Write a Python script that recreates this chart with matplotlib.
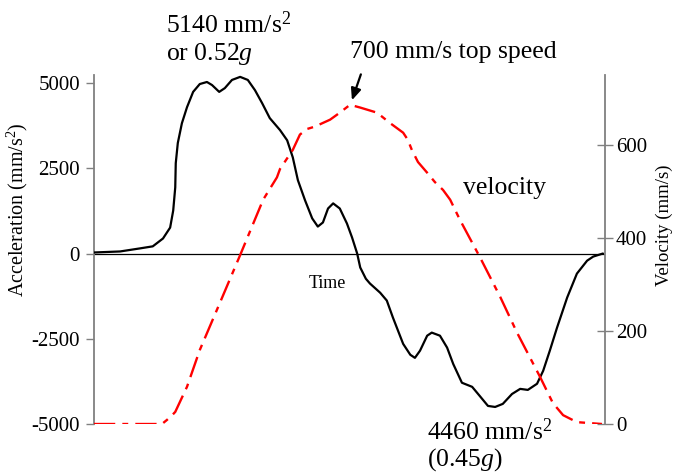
import matplotlib
matplotlib.use("Agg")
import matplotlib.pyplot as plt

plt.rcParams['font.family'] = ['Liberation Serif', 'DejaVu Serif']
plt.rcParams['mathtext.fontset'] = 'custom'
plt.rcParams['mathtext.rm'] = 'Liberation Serif'
plt.rcParams['mathtext.it'] = 'Liberation Serif:italic'

# ---- data (time in arbitrary units) ----
acc_time = [0.00, 0.51, 0.90, 1.15, 1.35, 1.49, 1.55, 1.59, 1.60, 1.64, 1.72, 1.82, 1.94, 2.07,
            2.21, 2.31, 2.45, 2.56, 2.70, 2.86, 3.01, 3.15, 3.29, 3.44, 3.64, 3.78, 3.89, 3.99,
            4.13, 4.27, 4.38, 4.48, 4.58, 4.68, 4.81, 4.95, 5.05, 5.15, 5.21, 5.32, 5.40, 5.60,
            5.73, 5.85, 6.05, 6.19, 6.28, 6.38, 6.52, 6.61, 6.77, 6.91, 7.03, 7.20, 7.40, 7.55,
            7.71, 7.85, 8.00, 8.18, 8.34, 8.49, 8.67, 8.79, 8.92, 9.06, 9.26, 9.45, 9.65, 9.77, 9.96]
acceleration = [30, 60, 150, 210, 440, 760, 1260, 1940, 2650, 3240, 3820, 4290, 4740, 4970,
                5030, 4940, 4740, 4850, 5090, 5180, 5090, 4790, 4410, 3970, 3620, 3320, 2820, 2150,
                1560, 1030, 790, 910, 1320, 1470, 1320, 880, 470, 0, -410, -740, -880, -1150,
                -1380, -1880, -2650, -2970, -3060, -2850, -2410, -2320, -2410, -2760, -3240, -3790, -3910, -4180,
                -4470, -4500, -4410, -4120, -3970, -4000, -3820, -3440, -2850, -2180, -1290, -590, -210, -90, 0]

vel_time = [0.00, 1.33, 1.43, 1.53, 1.59, 1.82, 2.07, 2.47, 2.86, 3.31, 3.58, 3.64, 3.89, 4.03,
            4.17, 4.32, 4.62, 4.81, 5.01, 5.21, 5.54, 5.79, 6.05, 6.14, 6.22, 6.34, 6.52, 6.67,
            6.83, 6.97, 7.16, 7.55, 7.95, 8.28, 8.73, 8.98, 9.18, 9.45, 9.94]
velocity = [0, 0, 9, 19, 26, 80, 159, 262, 363, 482, 530, 548, 589, 622,
            634, 639, 654, 669, 686, 680, 669, 647, 626, 611, 589, 563, 540, 520,
            503, 482, 439, 359, 273, 196, 101, 45, 19, 4, 0]

acc_ticks = [-5000, -2500, 0, 2500, 5000]
vel_ticks = [0, 200, 400, 600]

W, H = 675, 476
fig = plt.figure(figsize=(6.75, 4.76), dpi=100)
ax = fig.add_axes([94 / W, 1 - 424 / H, (605 - 94) / W, (424 - 75) / H])
ax2 = ax.twinx()

grey = '#808080'
ax.plot(acc_time, acceleration, color='black', lw=1.6, zorder=3,
        solid_joinstyle='round', solid_capstyle='round')
ax.axhline(0, color='black', lw=0.9, zorder=2)
ax2.plot(vel_time, velocity, color='#ff0000', lw=1.7, dashes=(9, 3, 2.5, 3),
         dash_joinstyle='round')

ax.set_xlim(0, 10)
ax.set_ylim(-5000, 5235)
ax2.set_ylim(0, 750)

ax.set_yticks(acc_ticks)
ax.set_yticklabels([str(v) for v in acc_ticks])
ax2.set_yticks(vel_ticks)
ax2.set_yticklabels([str(v) for v in vel_ticks])
ax.set_xticks([])

for a in (ax, ax2):
    for s in ('top', 'bottom'):
        a.spines[s].set_visible(False)
ax.spines['right'].set_visible(False)
ax2.spines['left'].set_visible(False)
ax.spines['left'].set_color(grey)
ax2.spines['right'].set_color(grey)
ax.spines['left'].set_linewidth(1.3)
ax2.spines['right'].set_linewidth(1.3)

ax.tick_params(axis='y', direction='out', length=6, width=1, color=grey, labelsize=15, pad=4)
ax2.tick_params(axis='y', direction='inout', length=12, width=1, color=grey, labelsize=15, pad=2)

ax.set_ylabel('Acceleration (mm/s$^2$)', fontsize=14.5)
ax.yaxis.set_label_coords(-0.126, 0.613)
ax2.set_ylabel('Velocity (mm/s)', fontsize=13.5)
ax2.yaxis.set_label_coords(1.100, 0.570)

def ft(x, y, s, **kw):
    fig.text(x / W, 1 - y / H, s, **kw)

ft(327, 283, 'Time', fontsize=13, ha='center', va='center')
ft(166, 25, '5140 mm/s$^2$', fontsize=18.5, ha='left', va='center')
ft(166, 54, 'or 0.52$\\mathit{g}$', fontsize=18.5, ha='left', va='center')
ft(350, 52, '700 mm/s top speed', fontsize=18.5, ha='left', va='center')
ft(463, 188, 'velocity', fontsize=18.5, ha='left', va='center')
ft(427, 432, '4460 mm/s$^2$', fontsize=18.5, ha='left', va='center')
ft(427, 460, '(0.45$\\mathit{g}$)', fontsize=18.5, ha='left', va='center')

ax2.annotate('', xy=(5.03, 690), xytext=(5.24, 757), annotation_clip=False,
             arrowprops=dict(arrowstyle='-|>,head_length=0.7,head_width=0.3', color='black', lw=1.6))

fig.savefig('out.png', dpi=100)
